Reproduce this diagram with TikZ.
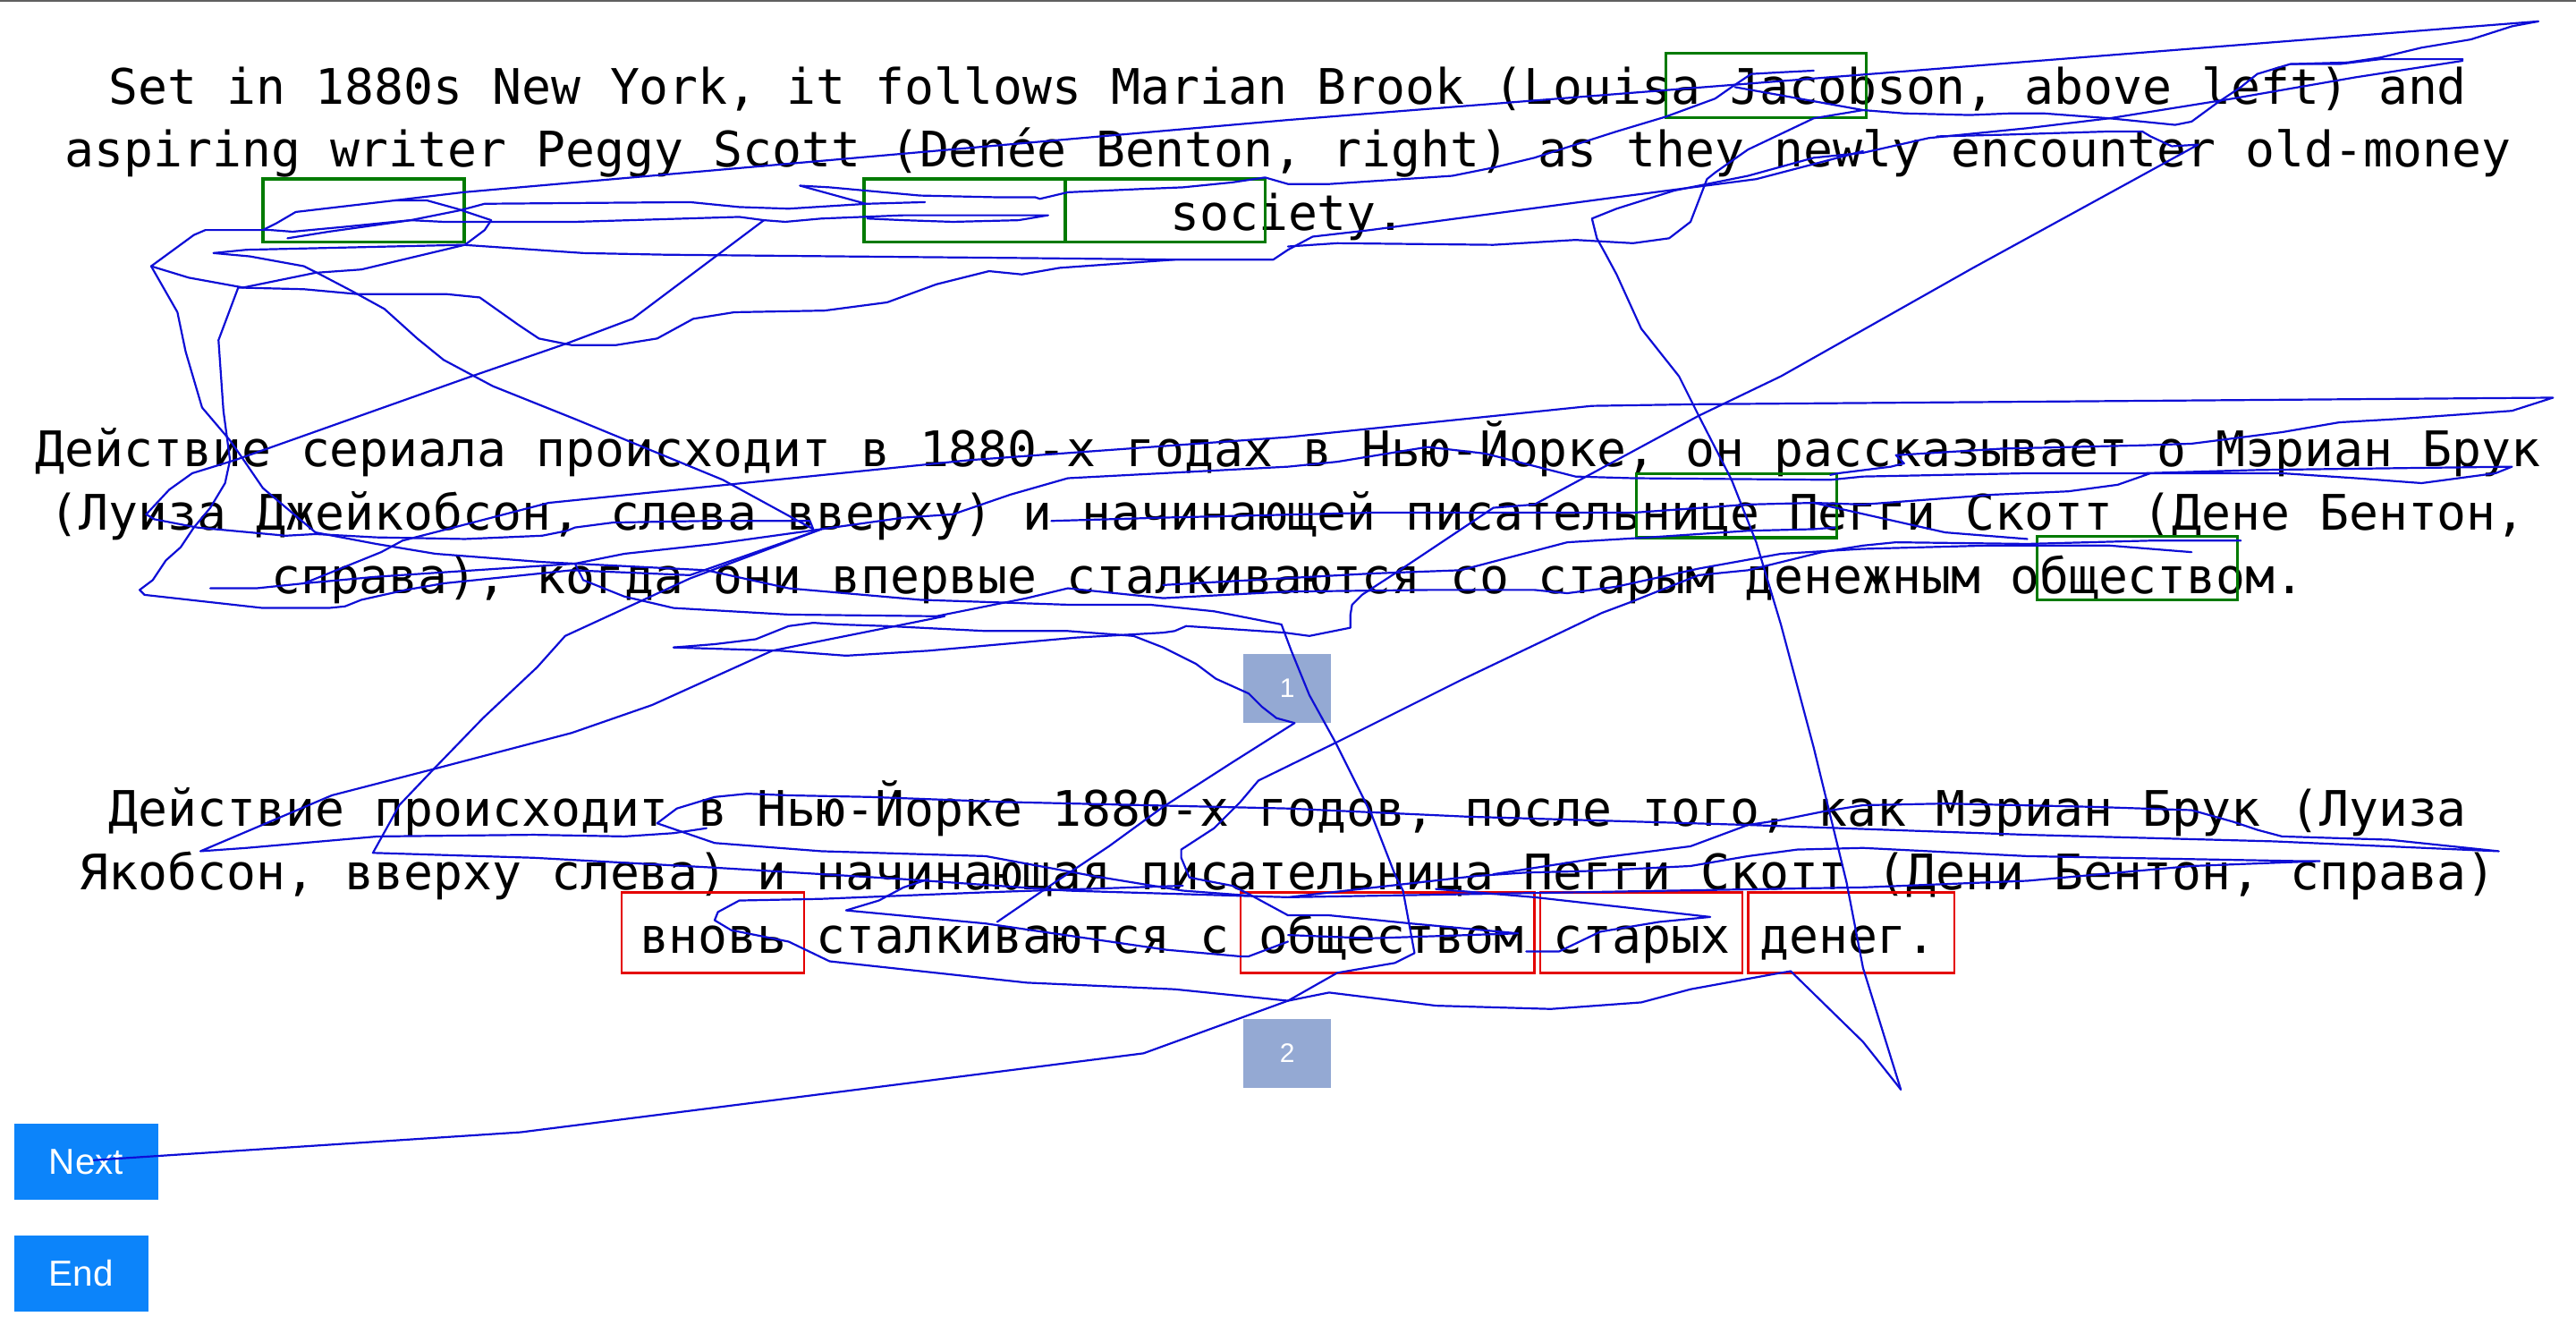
\documentclass[tikz,border=0pt]{standalone}
\usepackage{fontspec}
\setmonofont{DejaVu Sans Mono}
\setsansfont{Liberation Sans}
\definecolor{scribblue}{RGB}{14,14,214}
\definecolor{boxgreen}{RGB}{0,122,0}
\definecolor{boxred}{RGB}{228,0,0}
\definecolor{tagfill}{RGB}{148,169,211}
\definecolor{btnblue}{RGB}{12,132,250}
\definecolor{topgray}{RGB}{96,96,96}
\tikzset{
  para/.style={anchor=base, inner sep=0pt, font=\ttfamily\fontsize{29.8}{38.5}\selectfont},
  greenbox/.style={draw=boxgreen, line width=1.9pt},
  redbox/.style={draw=boxred, line width=1.3pt},
  tagbox/.style={fill=tagfill, text=white, minimum width=53pt, minimum height=42pt, inner sep=0pt, font=\sffamily\fontsize{16.3}{19}\selectfont},
  btn/.style={fill=btnblue, text=white, minimum height=46pt, inner sep=0pt, font=\sffamily\fontsize{22}{26}\selectfont},
  scrib/.style={draw=scribblue, line width=1.2pt, line join=round, line cap=round}
}
\begin{document}
\begin{tikzpicture}[x=1pt,y=-1pt]
\useasboundingbox (0,0) rectangle (1568,816.15);
\fill[white] (0,0) rectangle (1568,816.15);
\draw[topgray, line width=1.3pt] (0,0.65) -- (1568,0.65);

% paragraph 1
\node[para] (p1a) at (784,63.5) {Set in 1880s New York, it follows Marian Brook (Louisa Jacobson, above left) and};
\node[para] (p1b) at (784,101.8) {aspiring writer Peggy Scott (Denée Benton, right) as they newly encounter old-money};
\node[para] (p1c) at (784,140) {society.};
% paragraph 2
\node[para] (p2a) at (784,284) {Действие сериала происходит в 1880-х годах в Нью-Йорке, он рассказывает о Мэриан Брук};
\node[para] (p2b) at (784,322.5) {(Луиза Джейкобсон, слева вверху) и начинающей писательнице Пегги Скотт (Дене Бентон,};
\node[para] (p2c) at (784,361) {справа), когда они впервые сталкиваются со старым денежным обществом.};
% paragraph 3
\node[para] (p3a) at (784,503) {Действие происходит в Нью-Йорке 1880-х годов, после того, как Мэриан Брук (Луиза};
\node[para] (p3b) at (784,541.5) {Якобсон, вверху слева) и начинающая писательница Пегги Скотт (Дени Бентон, справа)};
\node[para] (p3c) at (784,580) {вновь сталкиваются с обществом старых денег.};

% green boxes
\draw[greenbox] (1014,32.3) rectangle (1136,71.7);
\draw[greenbox] (160,108.9) rectangle (282.5,147.4);
\draw[greenbox] (526,108.9) rectangle (648.5,147.4);
\draw[greenbox] (648.5,108.9) rectangle (770,147.4);
\draw[greenbox] (996,288.3) rectangle (1118,327.3);
\draw[greenbox] (1240,326.5) rectangle (1362,365);
% red boxes
\draw[redbox] (378.5,543) rectangle (489.5,592);
\draw[redbox] (755,543) rectangle (934,592);
\draw[redbox] (937.5,543) rectangle (1060.5,592);
\draw[redbox] (1064,543) rectangle (1189.5,592);

% tags and buttons
\node[tagbox] (tag1) at (783.5,419) {1};
\node[tagbox] (tag2) at (783.5,641) {2};
\node[btn, minimum width=88pt] (next) at (52.5,707) {Next};
\node[btn, minimum width=82pt] (end) at (49.5,775) {End};

% scribble
\draw[scrib] (1545,13) -- (784,73) -- (282,117) -- (240,122) -- (180,129) -- (168,136) -- (160,140);
\draw[scrib] (240,122) -- (260,122) -- (278,127) -- (299,134) -- (295,140) -- (283,149) -- (220,164) -- (192,166) -- (148,175) -- (115,169) -- (92,162);
\draw[scrib] (92,162) -- (118,143) -- (125,140) -- (165,140) -- (178,141) -- (210,138) -- (250,134) -- (280,128) -- (295,124) -- (420,123) -- (450,126) -- (480,127) -- (528,124) -- (563,123);
\draw[scrib] (175,145) -- (200,141) -- (250,134) -- (270,135) -- (350,135) -- (450,132) -- (465,134) -- (478,135) -- (500,133) -- (550,131) -- (638,131) -- (620,134) -- (580,135) -- (550,134) -- (528,133);
\draw[scrib] (487,113) -- (527,124);
\draw[scrib] (487,113) -- (505,114) -- (560,119) -- (605,120) -- (630,120) -- (633,121) -- (650,117) -- (695,115) -- (720,114) -- (750,111) -- (770,108) -- (784,112) -- (809,112) -- (884,107) -- (909,102) -- (934,96) -- (984,80) -- (1014,71) -- (1044,60) -- (1054,53) -- (1066,45) -- (1084,44) -- (1104,43);
\draw[scrib] (1056,53) -- (1084,58) -- (1134,67) -- (1159,69) -- (1199,70) -- (1224,69) -- (1244,69) -- (1284,72) -- (1324,76) -- (1334,74) -- (1349,63) -- (1364,53) -- (1374,45) -- (1394,39) -- (1424,39) -- (1449,36) -- (1499,36);
\draw[scrib] (1545,13) -- (1529,16) -- (1504,24) -- (1474,29) -- (1449,35) -- (1429,38) -- (1394,39);
\draw[scrib] (1499,37) -- (1434,47) -- (1359,60) -- (1284,72) -- (1234,78) -- (1174,84) -- (1134,93) -- (1104,96) -- (1064,107) -- (1019,116) -- (984,127) -- (969,133) -- (972,145) -- (977,154) -- (984,167) -- (999,200) -- (1022,229) -- (1034,253) -- (1054,292) -- (1069,330) -- (1084,380) -- (1104,455) -- (1124,537) -- (1134,589) -- (1157,663);
\draw[scrib] (1179,83) -- (1219,82) -- (1284,80) -- (1304,80) -- (1309,83) -- (1322,89) -- (1338,88) -- (1201,163) -- (1084,229) -- (1034,253) -- (934,307) -- (909,309) -- (849,349) -- (829,362) -- (823,368) -- (822,374) -- (822,382) -- (797,387) -- (782,385) -- (722,381) -- (715,384) -- (708,385);
\draw[scrib] (282,149) -- (355,154) -- (405,155) -- (510,156) -- (620,157) -- (715,158) -- (775,158) -- (784,152) -- (799,144) -- (834,140) -- (984,120) -- (1069,109) -- (1134,92);
\draw[scrib] (784,150) -- (814,148) -- (909,149) -- (959,146) -- (994,148) -- (1016,145) -- (1029,135) -- (1039,109) -- (1044,105) -- (1064,91) -- (1104,72) -- (1134,67);
\draw[scrib] (130,154) -- (150,152) -- (282,149);
\draw[scrib] (130,154) -- (152,156) -- (185,162) -- (193,166) -- (214,177) -- (234,188) -- (254,206) -- (270,219) -- (300,235) -- (350,255) -- (440,292) -- (495,322) -- (493,317) -- (465,317) -- (430,317) -- (373,318) -- (350,321) -- (345,323) -- (330,326) -- (283,328) -- (229,327) -- (192,325) -- (174,326) -- (120,321) -- (94,316) -- (89,313);
\draw[scrib] (145,175) -- (185,176) -- (218,179) -- (272,179) -- (292,181) -- (316,198) -- (328,206) -- (348,210) -- (375,210) -- (400,206) -- (422,194) -- (447,190) -- (502,189) -- (540,184) -- (570,173) -- (602,165) -- (622,167) -- (645,163) -- (715,158);
\draw[scrib] (465,134) -- (385,194) -- (345,209) -- (287,229) -- (143,280) -- (117,288) -- (103,298) -- (89,313);
\draw[scrib] (145,175) -- (133,207) -- (136,250) -- (140,280) -- (137,294) -- (128,309) -- (118,321) -- (110,333) -- (101,341) -- (93,353) -- (85,359) -- (88,362) -- (160,370) -- (200,370) -- (210,369) -- (220,365) -- (247,359) -- (270,355) -- (348,347) -- (420,350) -- (500,322);
\draw[scrib] (92,162) -- (108,190) -- (113,214) -- (123,248) -- (140,268) -- (147,278) -- (160,297) -- (192,324) -- (229,331) -- (265,337) -- (330,342) -- (430,347) -- (480,358) -- (560,365) -- (650,368) -- (700,368) -- (739,372) -- (780,380) -- (786,396) -- (797,423) -- (813,452) -- (835,496) -- (849,532) -- (854,542) -- (861,580) -- (849,586) -- (814,592) -- (784,609);
\draw[scrib] (128,358) -- (156,358) -- (185,355) -- (229,351) -- (274,348) -- (350,343) -- (365,340) -- (380,337) -- (435,331) -- (500,322) -- (550,315) -- (580,313) -- (615,301) -- (650,291) -- (784,284) -- (814,281) -- (869,272) -- (904,276) -- (959,290) -- (994,291) -- (1114,292) -- (1134,290) -- (1234,288) -- (1304,288) -- (1374,286) -- (1529,284) -- (1519,288) -- (1474,294) -- (1434,291) -- (1389,288) -- (1309,288) -- (1289,295) -- (1259,299) -- (1214,301) -- (1134,307) -- (1104,306) -- (1064,307) -- (994,312) -- (835,312) -- (708,315) -- (640,317);
\draw[scrib] (185,355) -- (232,336) -- (245,329) -- (280,320) -- (334,306) -- (590,280) -- (784,266) -- (969,247) -- (1034,246) -- (1554,242) -- (1529,250) -- (1459,255) -- (1424,257) -- (1389,263) -- (1334,270) -- (1304,271) -- (1219,273) -- (1154,277) -- (1159,282) -- (1151,284) -- (1119,288) -- (1114,289);
\draw[scrib] (1104,306) -- (1144,315) -- (1184,324) -- (1234,328);
\draw[scrib] (350,343) -- (355,353) -- (380,363) -- (410,370) -- (480,374) -- (570,375) -- (625,364) -- (650,358) -- (708,364) -- (784,360) -- (869,359) -- (934,359) -- (954,361) -- (984,357) -- (1034,346) -- (1084,337) -- (1134,334) -- (1209,332) -- (1284,332) -- (1334,336);
\draw[scrib] (708,356) -- (762,353) -- (835,349) -- (889,347) -- (954,330) -- (1004,327) -- (1064,323) -- (1104,322) -- (1117,321);
\draw[scrib] (1109,336) -- (1134,332) -- (1154,330) -- (1234,331) -- (1309,329) -- (1364,329);
\draw[scrib] (410,394) -- (435,392) -- (460,389) -- (480,381) -- (495,379) -- (510,380) -- (540,381) -- (600,384) -- (650,384) -- (690,387) -- (708,394) -- (728,404) -- (740,413) -- (760,422) -- (768,430) -- (777,437) -- (788,440);
\draw[scrib] (410,394) -- (475,396) -- (515,399) -- (565,396) -- (655,388) -- (708,385);
\draw[scrib] (500,322) -- (420,352) -- (344,387) -- (327,406) -- (294,437) -- (264,468) -- (243,490) -- (237,501) -- (227,519) -- (325,522) -- (435,528) -- (550,535) -- (650,542) -- (784,546) -- (1134,540) -- (1234,536) -- (1334,527) -- (1412,524) -- (1399,524) -- (1234,521) -- (1134,516) -- (1094,517) -- (1064,521) -- (1029,527) -- (969,530) -- (929,531) -- (899,533) -- (784,546);
\draw[scrib] (575,375) -- (470,396) -- (397,429) -- (348,446) -- (264,468) -- (202,484) -- (162,501) -- (122,518) -- (150,516) -- (230,509) -- (325,508) -- (380,509) -- (410,507) -- (430,504);
\draw[scrib] (400,501) -- (412,492) -- (435,485) -- (455,483) -- (480,484) -- (530,485) -- (610,488) -- (784,492) -- (894,497) -- (1064,502) -- (1234,508) -- (1384,512) -- (1521,518) -- (1454,511) -- (1389,509) -- (1374,505) -- (1359,500) -- (1334,493) -- (1274,491) -- (1184,489) -- (1134,490) -- (1109,494) -- (1084,499) -- (1064,502) -- (1029,515) -- (974,522) -- (909,532);
\draw[scrib] (400,501) -- (435,513) -- (500,518) -- (600,521) -- (665,533) -- (720,542) -- (760,545);
\draw[scrib] (720,539) -- (600,543) -- (500,547) -- (450,548) -- (437,555) -- (435,560) -- (445,566) -- (480,573) -- (505,585) -- (625,598) -- (715,602) -- (784,609) -- (794,607) -- (809,604) -- (874,612) -- (944,614) -- (999,610) -- (1029,602) -- (1084,592) -- (1090,591) -- (1134,634) -- (1157,663);
\draw[scrib] (565,535) -- (550,540) -- (535,548) -- (515,554) -- (600,562) -- (710,578) -- (755,582) -- (760,582) -- (784,573);
\draw[scrib] (607,561) -- (645,535) -- (675,515) -- (708,491) -- (750,464) -- (788,440);
\draw[scrib] (1109,336) -- (1064,347) -- (1034,350) -- (991,367) -- (975,373) -- (889,414) -- (813,452) -- (766,475) -- (755,488) -- (739,504) -- (719,517) -- (719,522) -- (724,534) -- (750,539) -- (760,544) -- (784,557) -- (809,557) -- (859,562) -- (924,568) -- (834,571) -- (784,569);
\draw[scrib] (57,706) -- (317,689) -- (696,641) -- (784,609);
\draw[scrib] (874,541) -- (934,546) -- (1041,558) -- (1010,561) -- (974,567) -- (949,579) -- (929,579);
\end{tikzpicture}
\end{document}
